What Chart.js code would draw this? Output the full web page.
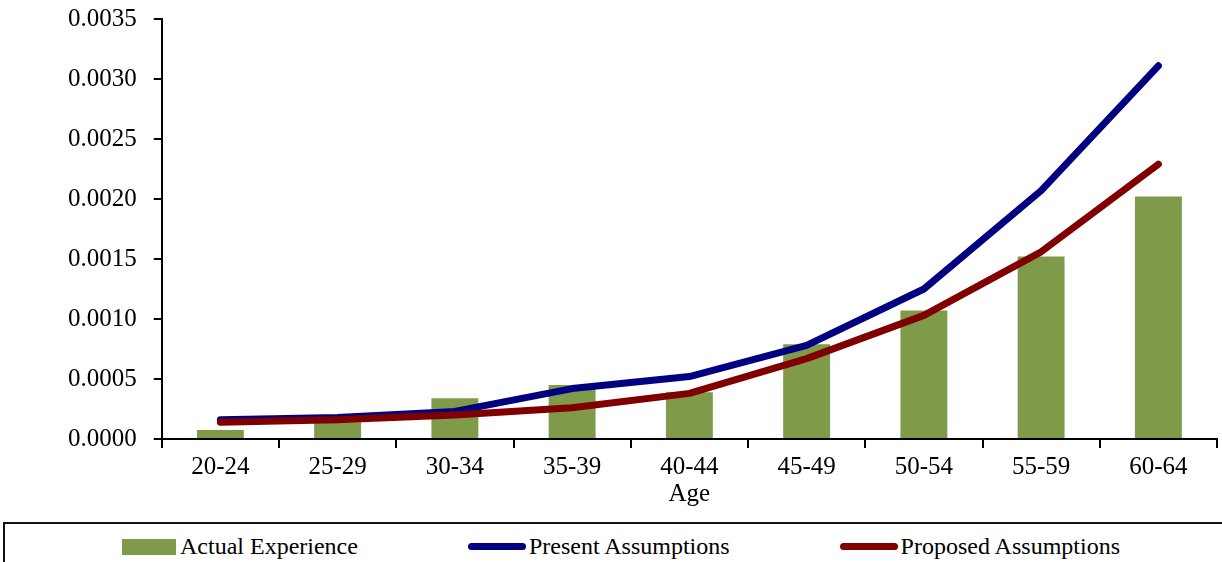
<!DOCTYPE html>
<html>
<head>
<meta charset="utf-8">
<script src="https://cdn.jsdelivr.net/npm/chart.js@4"></script>
<style>
  body { margin: 0; background: #fff; width: 1222px; height: 562px; overflow: hidden; position: relative; }
  #wrap { position: absolute; left: 0; top: 0; width: 1222px; height: 515px; }
  #legend {
    position: absolute; left: 3px; top: 522px; width: 1240px; height: 60px;
    border: 2px solid #111; box-sizing: border-box;
    display: flex; justify-content: center; align-items: flex-start; gap: 110px;
    padding-top: 9px; padding-right: 4px;
    font-family: "Liberation Serif", serif; font-size: 24px; color: #000;
  }
  .item { display: flex; align-items: center; white-space: nowrap; }
</style>
</head>
<body>
<div id="wrap"><canvas id="myChart"></canvas></div>
<div id="legend"></div>
<script>
const ages = ['20-24', '25-29', '30-34', '35-39', '40-44', '45-49', '50-54', '55-59', '60-64'];
const actual = [0.000075, 0.00014, 0.00034, 0.00045, 0.00039, 0.00079, 0.00107, 0.00152, 0.00202];
const present = [0.00016, 0.00018, 0.00023, 0.00042, 0.00052, 0.00078, 0.00125, 0.00207, 0.00311];
const proposed = [0.00014, 0.00016, 0.00020, 0.00026, 0.00038, 0.00067, 0.00103, 0.00156, 0.00229];
const yTicks = [0, 0.0005, 0.0010, 0.0015, 0.0020, 0.0025, 0.0030, 0.0035];

const serif = '"Liberation Serif", "Times New Roman", serif';

const ctx = document.getElementById('myChart').getContext('2d');
const myChart = new Chart(ctx, {
    type: 'bar',
    data: {
        labels: ages,
        datasets: [{
            type: 'line',
            label: 'Proposed Assumptions',
            data: proposed,
            borderColor: '#800000',
            backgroundColor: '#800000',
            borderWidth: 7,
            borderCapStyle: 'round',
            borderJoinStyle: 'round',
            pointRadius: 0,
            tension: 0,
            order: 1
        }, {
            type: 'line',
            label: 'Present Assumptions',
            data: present,
            borderColor: '#000080',
            backgroundColor: '#000080',
            borderWidth: 7,
            borderCapStyle: 'round',
            borderJoinStyle: 'round',
            pointRadius: 0,
            tension: 0,
            order: 2
        }, {
            label: 'Actual Experience',
            data: actual,
            backgroundColor: '#7f9b4a',
            barPercentage: 0.4,
            categoryPercentage: 1,
            order: 3
        }]
    },
    options: {
        responsive: true,
        maintainAspectRatio: false,
        animation: false,
        layout: { padding: { left: 51, right: 5, top: 19, bottom: 3 } },
        plugins: {
            legend: { display: false },
            tooltip: { enabled: false }
        },
        scales: {
            x: {
                grid: { display: true, drawOnChartArea: false, drawTicks: true, tickLength: 9, color: '#000', lineWidth: 2, offset: true },
                border: { display: true, color: '#000', width: 2 },
                ticks: { color: '#000', padding: 7, font: { family: serif, size: 25, lineHeight: 1 } },
                title: { display: true, text: 'Age', color: '#000', padding: { top: -5, bottom: 5 }, font: { family: serif, size: 25, lineHeight: 1 } }
            },
            y: {
                min: 0,
                max: 0.0035,
                afterBuildTicks: axis => { axis.ticks = yTicks.map(v => ({ value: v })); },
                // top label may sit close to the canvas edge, as in the source
                afterFit: axis => { axis.paddingTop = 0; },
                grid: { display: true, drawOnChartArea: false, drawTicks: true, tickLength: 8, color: '#000', lineWidth: 2 },
                border: { display: true, color: '#000', width: 2 },
                ticks: {
                    color: '#000',
                    padding: 17,
                    font: { family: serif, size: 25, lineHeight: 1 },
                    callback: v => Number(v).toFixed(4)
                }
            }
        }
    }
});

// legend built from the chart's datasets, in the reference order
function displayLegend(chart) {
    const legend = document.getElementById('legend');
    [2, 1, 0].forEach(i => {
        const ds = chart.data.datasets[i];
        const item = document.createElement('div');
        item.className = 'item';
        const sw = document.createElement('span');
        if (ds.type === 'line') {
            sw.style.cssText = `display:inline-block;width:58px;height:7px;border-radius:4px;background:${ds.borderColor};margin-right:3px;`;
        } else {
            sw.style.cssText = `display:inline-block;width:54px;height:16px;background:${ds.backgroundColor};margin-right:4px;`;
        }
        item.appendChild(sw);
        item.appendChild(document.createTextNode(ds.label));
        legend.appendChild(item);
    });
}
displayLegend(myChart);
</script>
</body>
</html>
